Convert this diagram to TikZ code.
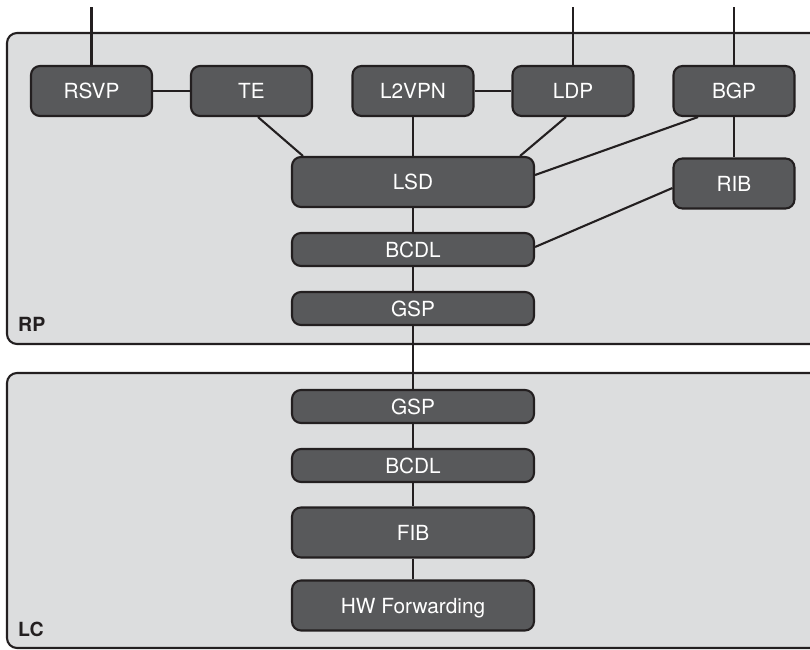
\documentclass[tikz,border=0pt]{standalone}
\usepackage{fontspec}
\setmainfont{TeX Gyre Heros}
\definecolor{boxgray}{HTML}{58595B}
\definecolor{panelgray}{HTML}{DCDDDE}
\definecolor{linegray}{HTML}{231F20}
\begin{document}
\begin{tikzpicture}[x=1pt, y=-1pt,
    mod/.style={draw=linegray, line width=2.1pt, fill=boxgray, rounded corners=9pt,
        text=white, font=\fontsize{20.8}{24}\selectfont, inner sep=0pt,
        text height=15pt, text depth=0pt, minimum width=121pt, minimum height=50pt},
    wide/.style={mod, minimum width=242pt},
    flat/.style={wide, minimum height=33pt},
    link/.style={draw=linegray, line width=2.1pt},
    panel/.style={draw=linegray, line width=2.1pt, fill=panelgray, rounded corners=10pt},
    tag/.style={anchor=base west, inner sep=0pt, text=linegray,
        font=\bfseries\fontsize{19.5}{22}\selectfont}]
    \useasboundingbox (0,0) rectangle (810,649);
    \clip (0,0) rectangle (810,649);
    % the two cards
    \draw[panel] (7,33) rectangle (850,344);
    \draw[panel] (7,373) rectangle (850,648);
    \node[tag] (rp) at (18,331) {RP};
    \node[tag] (lc) at (18,636) {LC};
    % RP processes
    \node[mod] (rsvp) at (91.5,91) {RSVP};
    \node[mod] (te) at (251.5,91) {TE};
    \node[mod] (l2vpn) at (413,91) {L2VPN};
    \node[mod] (ldp) at (573,91) {LDP};
    \node[mod] (bgp) at (734,91) {BGP};
    \node[wide] (lsd) at (413,182) {LSD};
    \node[mod] (rib) at (734,183.5) {RIB};
    \node[flat] (bcdl) at (413,249.5) {BCDL};
    \node[flat] (gsp) at (413,308.5) {GSP};
    % LC processes
    \node[flat] (lcgsp) at (413,406.5) {GSP};
    \node[flat] (lcbcdl) at (413,465.5) {BCDL};
    \node[wide] (fib) at (413,532.5) {FIB};
    \node[wide] (hw) at (413,605.5) {HW Forwarding};
    % outside connections
    \coordinate (rsvpin) at (91.5,7);
    \coordinate (ldpin) at (573,7);
    \coordinate (bgpin) at (734,7);
    \draw[link] (rsvpin) -- (rsvp);
    \draw[link] (ldpin) -- (ldp);
    \draw[link] (bgpin) -- (bgp);
    % links
    \draw[link] (rsvp) -- (te);
    \draw[link] (l2vpn) -- (ldp);
    \draw[link] ([xshift=6.5pt]te.south) -- ([xshift=12pt]lsd.north west);
    \draw[link] (l2vpn) -- (lsd);
    \draw[link] ([xshift=-7pt]ldp.south) -- ([xshift=-15pt]lsd.north east);
    \draw[link] ([xshift=-36pt]bgp.south) -- ([yshift=7pt]lsd.east);
    \draw[link] (bgp) -- (rib);
    \draw[link] ([yshift=-4.5pt]rib.west) -- ([yshift=2.5pt]bcdl.east);
    \draw[link] (lsd) -- (bcdl);
    \draw[link] (bcdl) -- (gsp);
    \draw[link] (gsp) -- (lcgsp);
    \draw[link] (lcgsp) -- (lcbcdl);
    \draw[link] (lcbcdl) -- (fib);
    \draw[link] (fib) -- (hw);
\end{tikzpicture}
\end{document}
